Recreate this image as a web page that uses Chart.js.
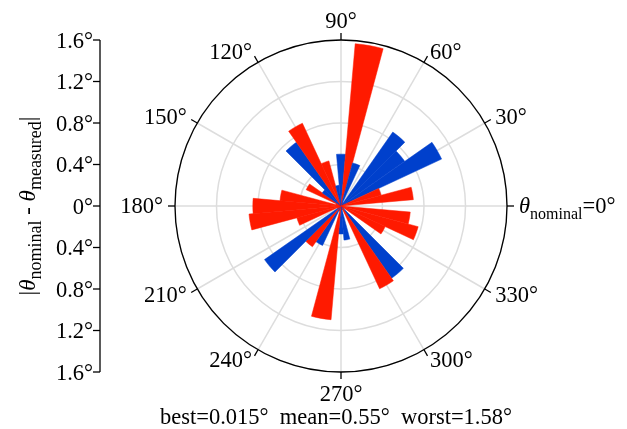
<!DOCTYPE html>
<html>
<head>
<meta charset="utf-8">
<script src="https://cdn.jsdelivr.net/npm/chart.js@4.4.1/dist/chart.umd.min.js"></script>
<style>
  html, body { margin: 0; padding: 0; background: #fff; }
  #wrap { width: 627px; height: 429px; }
</style>
</head>
<body>
<div id="wrap"><canvas id="rose" width="627" height="429"></canvas></div>
<script>
// nominal angle of every bin, degrees counter-clockwise from the right
const binAngles = [0, 10, 20, 30, 40, 50, 60, 70, 80, 90, 100, 110,
                   120, 130, 140, 150, 160, 170, 180, 190, 200, 210, 220, 230,
                   240, 250, 260, 270, 280, 290, 300, 310, 320, 330, 340, 350];
// |nominal - measured| in degrees, red bins and blue bins (0 = other colour)
const redErrors  = [0.015, 0.70, 0.40, 0, 0, 0, 0.03, 0, 1.57, 0, 0, 0.45,
                    0.88, 0, 0, 0.37, 0.05, 0.59, 0.85, 0.89, 0.44, 0.04, 0, 0.48,
                    0, 0.05, 1.10, 0, 0, 0.04, 0.88, 0, 0.03, 0.47, 0.77, 0.67];
const blueErrors = [0, 0, 0, 1.07, 0.75, 0.87, 0, 0.43, 0, 0.50, 0.20, 0,
                    0, 0.75, 0.22, 0, 0, 0, 0, 0, 0, 0, 0.90, 0,
                    0.42, 0, 0, 0.27, 0.33, 0, 0, 0.85, 0, 0, 0, 0];
const radialTicks = [0, 0.4, 0.8, 1.2, 1.6];
const angleTicks = [0, 30, 60, 90, 120, 150, 180, 210, 240, 270, 300, 330];
const statsText = 'best=0.015°  mean=0.55°  worst=1.58°';

const RED = '#ff1a00';
const BLUE = '#0040cc';
const GRID = '#dddddd';
const FONT = '"Liberation Serif", "DejaVu Serif", serif';
const MAIN = 22.5;
const SUB = 16;

// Chart.js walks clockwise, so feed the bins in decreasing angle order
const order = binAngles.map((a, i) => i).sort((i, j) => ((360 - binAngles[i]) % 360) - ((360 - binAngles[j]) % 360));
const values = order.map(i => redErrors[i] || blueErrors[i]);
const colors = order.map(i => (blueErrors[i] > 0 ? BLUE : RED));

function fontOf(size, italic) {
    return (italic ? 'italic ' : '') + size + 'px ' + FONT;
}

function partsWidth(ctx, parts, main, sub) {
    let w = 0;
    parts.forEach(p => {
        ctx.font = fontOf(p.sub ? sub : main, p.it);
        w += ctx.measureText(p.t).width;
    });
    return w;
}

function drawParts(ctx, parts, x, y, main, sub) {
    parts.forEach(p => {
        ctx.font = fontOf(p.sub ? sub : main, p.it);
        ctx.fillText(p.t, x, y + (p.sub ? 6 : 0));
        x += ctx.measureText(p.t).width;
    });
}

const roseDecor = {
    id: 'roseDecor',
    beforeDatasetsDraw(chart) {
        const r = chart.scales.r;
        const ctx = chart.ctx;
        const R = r.drawingArea;
        ctx.save();
        ctx.strokeStyle = GRID;
        ctx.lineWidth = 1.5;
        angleTicks.forEach(a => {
            const t = a * Math.PI / 180;
            ctx.beginPath();
            ctx.moveTo(r.xCenter, r.yCenter);
            ctx.lineTo(r.xCenter + R * Math.cos(t), r.yCenter - R * Math.sin(t));
            ctx.stroke();
        });
        ctx.restore();
    },
    afterDatasetsDraw(chart) {
        const r = chart.scales.r;
        const ctx = chart.ctx;
        const cx = r.xCenter, cy = r.yCenter;
        const R = r.getDistanceFromCenterForValue(1.6);
        ctx.save();

        // outer frame of the polar axes
        ctx.strokeStyle = '#000';
        ctx.lineWidth = 1.3;
        ctx.beginPath();
        ctx.arc(cx, cy, R, 0, Math.PI * 2);
        ctx.stroke();

        ctx.fillStyle = '#000';
        ctx.textBaseline = 'alphabetic';
        angleTicks.forEach(a => {
            const t = a * Math.PI / 180;
            const c = Math.cos(t), s = Math.sin(t);
            ctx.beginPath();
            ctx.moveTo(cx + R * c, cy - R * s);
            ctx.lineTo(cx + (R + 7) * c, cy - (R + 7) * s);
            ctx.stroke();

            const parts = a === 0
                ? [{ t: 'θ', it: true }, { t: 'nominal', sub: true }, { t: '=0°' }]
                : [{ t: a + '°' }];
            const w = partsWidth(ctx, parts, MAIN, SUB);
            const ax = cx + (R + 12) * c, ay = cy - (R + 12) * s;
            let x = ax - w / 2;
            if (c > 0.01) x = ax;
            if (c < -0.01) x = ax - w;
            let y = ay + 7;
            if (a === 90) y = ay;
            if (a === 270) y = ay + 17;
            drawParts(ctx, parts, x, y, MAIN, SUB);
        });

        // left-hand radial scale, mirrored through zero
        const axisX = 100;
        ctx.beginPath();
        ctx.moveTo(axisX, cy - R);
        ctx.lineTo(axisX, cy + R);
        ctx.stroke();
        ctx.font = fontOf(MAIN);
        ctx.textAlign = 'right';
        radialTicks.forEach(v => {
            const d = r.getDistanceFromCenterForValue(v);
            const ys = v === 0 ? [cy] : [cy - d, cy + d];
            ys.forEach(y => {
                ctx.beginPath();
                ctx.moveTo(axisX - 7, y);
                ctx.lineTo(axisX, y);
                ctx.stroke();
                ctx.fillText(v === 0 ? '0°' : v.toFixed(1) + '°', axisX - 7, y + 7.5);
            });
        });

        // axis title, rotated
        ctx.textAlign = 'left';
        const title = [{ t: '|' }, { t: 'θ', it: true }, { t: 'nominal', sub: true },
                       { t: ' - ' }, { t: 'θ', it: true }, { t: 'measured', sub: true }, { t: '|' }];
        ctx.save();
        ctx.translate(35, cy);
        ctx.rotate(-Math.PI / 2);
        drawParts(ctx, title, -partsWidth(ctx, title, 23, 18) / 2, 0, 23, 18);
        ctx.restore();

        // summary line
        ctx.font = fontOf(MAIN);
        ctx.textAlign = 'center';
        ctx.fillText(statsText, 336, 424);
        ctx.restore();
    }
};

new Chart(document.getElementById('rose'), {
    type: 'polarArea',
    data: {
        labels: order.map(i => binAngles[i] + '°'),
        datasets: [{
            data: values,
            backgroundColor: colors,
            borderColor: colors,
            borderWidth: 0.5
        }]
    },
    options: {
        responsive: false,
        animation: false,
        devicePixelRatio: 1,
        layout: { padding: { left: 175, right: 120, top: 40, bottom: 57 } },
        plugins: {
            legend: { display: false },
            tooltip: { enabled: false }
        },
        scales: {
            r: {
                min: 0,
                max: 1.6,
                startAngle: 85,
                ticks: { display: false, stepSize: 0.4 },
                grid: { color: GRID, lineWidth: 1.5 },
                angleLines: { display: false },
                pointLabels: { display: false }
            }
        }
    },
    plugins: [roseDecor]
});
</script>
</body>
</html>
